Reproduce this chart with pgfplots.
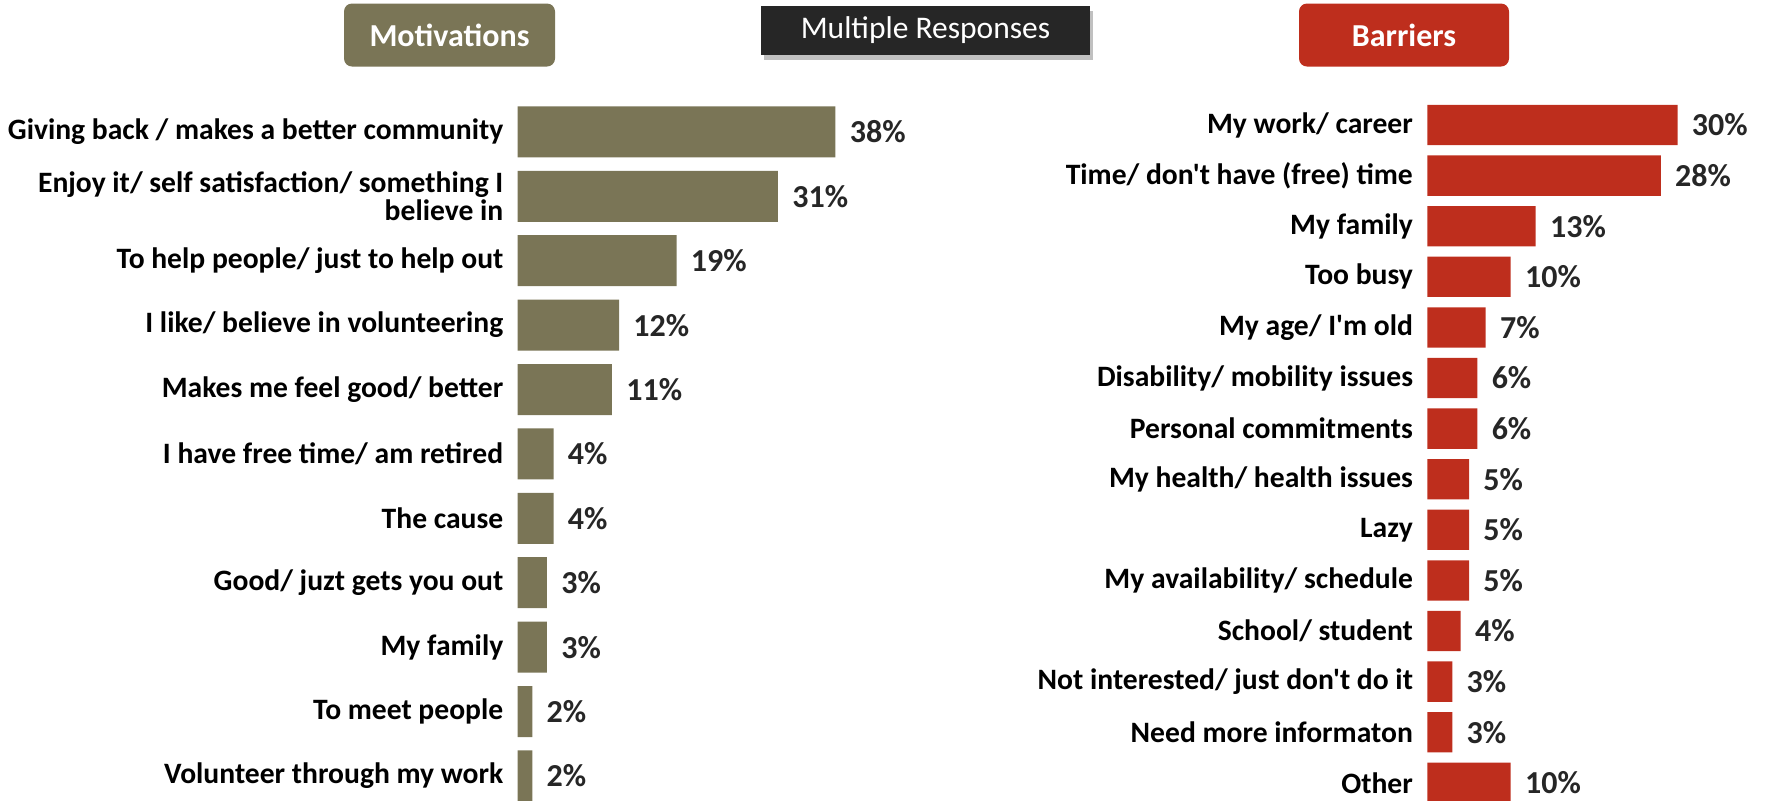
\documentclass[border=0pt]{standalone}
\usepackage{fontspec}
\setmainfont{Carlito}[Ligatures=TeXOff]
\usepackage{pgfplots}
\pgfplotsset{compat=1.18}
\usetikzlibrary{shadows}
\definecolor{olivebar}{HTML}{7A7556}
\definecolor{redbar}{HTML}{BE2E1D}
\definecolor{darkbox}{HTML}{262626}
\definecolor{vallab}{HTML}{262626}
\begin{document}
\begin{tikzpicture}
\useasboundingbox (0,0) rectangle (884pt,-400pt);
\clip (0,0) rectangle (884pt,-400pt);
\pgfplotsset{
  barpanel/.style={
    scale only axis,
    height=354.2pt,
    xmin=0,
    enlargelimits=false,
    clip=false,
    axis x line=none,
    axis y line*=left,
    y axis line style={draw=none},
    ytick style={draw=none},
    major tick length=0pt,
    /pgf/number format/assume math mode=true,
    yticklabel style={font=\fontsize{14.8}{14}\bfseries, text=black, align=right, inner sep=0pt, xshift=-7pt},
    point meta=explicit,
    nodes near coords={\pgfmathprintnumber{\pgfplotspointmeta}\%},
    nodes near coords style={font=\fontsize{16}{18}\bfseries, text=vallab, anchor=west, inner sep=0pt, xshift=7pt},
  }
}
% Motivations
\begin{axis}[barpanel,
  at={(258.85pt,-49.85pt)}, anchor=north west,
  width=166.8pt, xmax=40,
  ymin=-0.5, ymax=10.5,
  ytick={0,...,10},
  yticklabels={Volunteer through my work, To meet people, My family, Good/ juzt gets you out, The cause, I have free time/ am retired, Makes me feel good/ better, I like/ believe in volunteering, To help people/ just to help out, {Enjoy it/ self satisfaction/ something I\\believe in}, Giving back / makes a better community},
]
\addplot[xbar, bar width=25.5pt, fill=olivebar, draw=none] coordinates {
  (1.75,0) [2]
  (1.75,1) [2]
  (3.5,2) [3]
  (3.5,3) [3]
  (4.3,4) [4]
  (4.3,5) [4]
  (11.3,6) [11]
  (12.15,7) [12]
  (19.05,8) [19]
  (31.2,9) [31]
  (38.1,10) [38]
};
\end{axis}
% Barriers
\begin{axis}[barpanel,
  at={(713.65pt,-49.85pt)}, anchor=north west,
  width=125.1pt, xmax=30,
  ymin=-0.5, ymax=13.5,
  ytick={0,...,13},
  yticklabels={Other, Need more informaton, Not interested/ just don't do it, School/ student, My availability/ schedule, Lazy, My health/ health issues, Personal commitments, Disability/ mobility issues, My age/ I'm old, Too busy, My family, Time/ don't have (free) time, My work/ career},
]
\addplot[xbar, bar width=20.15pt, fill=redbar, draw=none] coordinates {
  (10,0) [10]
  (3,1) [3]
  (3,2) [3]
  (4,3) [4]
  (5,4) [5]
  (5,5) [5]
  (5,6) [5]
  (6,7) [6]
  (6,8) [6]
  (7,9) [7]
  (10,10) [10]
  (13,11) [13]
  (28,12) [28]
  (30,13) [30]
};
\end{axis}
% Header boxes
\node[fill=olivebar, rounded corners=4pt, minimum width=105.5pt, minimum height=31.5pt, inner sep=0pt, text=white, font=\fontsize{16}{19}\bfseries] at (224.75pt,-17.5pt) {Motivations};
\node[fill=darkbox, drop shadow={shadow xshift=1.5pt, shadow yshift=-2.5pt, fill=black!55, opacity=0.45}, minimum width=164.5pt, minimum height=24.85pt, inner sep=0pt, text=white, font=\fontsize{15.75}{19}\selectfont] at (462.75pt,-15.25pt) {\raisebox{1.5pt}{Multiple Responses}};
\node[fill=redbar, rounded corners=4pt, minimum width=105pt, minimum height=31.5pt, inner sep=0pt, text=white, font=\fontsize{16}{19}\bfseries] at (702pt,-17.5pt) {Barriers};
\end{tikzpicture}
\end{document}
